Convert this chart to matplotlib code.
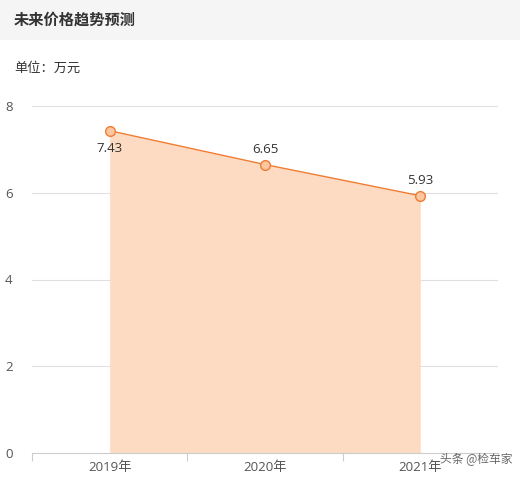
import matplotlib
matplotlib.use("Agg")
import matplotlib.pyplot as plt
from matplotlib.patches import Rectangle

plt.rcParams["font.family"] = ["Open Sans", "Noto Sans CJK SC", "DejaVu Sans"]

years = ["2019年", "2020年", "2021年"]
prices = [7.43, 6.65, 5.93]
yticks = [0, 2, 4, 6, 8]

line_color = "#f07c33"
fill_color = "#fddbc3"
cjk = ["Noto Sans CJK SC", "DejaVu Sans"]

fig = plt.figure(figsize=(5.2, 4.83), dpi=100)
fig.patch.set_facecolor("white")

# header band
fig.patches.append(Rectangle((0, 1 - 40 / 483), 1, 40 / 483, transform=fig.transFigure,
                             facecolor="#f5f5f5", edgecolor="none", zorder=0))
fig.text(14 / 520, 1 - 20 / 483, "未来价格趋势预测", fontsize=11, fontweight="bold",
         color="#333333", va="center", ha="left", family=cjk)
fig.text(14 / 520, 1 - 68 / 483, "单位：万元", fontsize=9.5, color="#333333",
         va="center", ha="left", family=cjk)

ax = fig.add_axes([32 / 520, 1 - 453 / 483, (498 - 32) / 520, (453 - 106) / 483])
x = list(range(len(years)))
ax.fill_between(x, prices, 0, color=fill_color, lw=0, zorder=1)
ax.plot(x, prices, color=line_color, lw=1, zorder=3)
ax.plot(x, prices, "o", ms=7, mfc="#fbc6a0", mec=line_color, mew=1, zorder=4)

for i, v in enumerate(prices):
    if i == 0:
        ax.annotate(f"{v:.2f}", (i, v), xytext=(0, -8), textcoords="offset points",
                    ha="center", va="top", fontsize=9.5, color="#333333")
    else:
        ax.annotate(f"{v:.2f}", (i, v), xytext=(0, 6), textcoords="offset points",
                    ha="center", va="bottom", fontsize=9.5, color="#333333")

ax.set_xlim(-0.5, len(years) - 0.5)
ax.set_ylim(0, 8)
ax.set_yticks(yticks)
ax.set_yticklabels([str(t) for t in yticks])
ax.tick_params(axis="y", length=0, pad=14, labelsize=9.5, labelcolor="#555555")
for t in yticks[1:]:
    ax.axhline(t, color="#e0e0e0", lw=0.8, zorder=0)

ax.set_xticks(x)
ax.set_xticklabels(years)
ax.set_xticks([-0.5, 0.5, 1.5, 2.5], minor=True)
ax.tick_params(axis="x", which="major", length=0, pad=6, labelsize=9.5, labelcolor="#555555")
ax.tick_params(axis="x", which="minor", length=6, color="#cccccc", width=0.8)

for s in ["top", "right", "left"]:
    ax.spines[s].set_visible(False)
ax.spines["bottom"].set_color("#cccccc")
ax.spines["bottom"].set_linewidth(0.8)

fig.text(512 / 520, 1 - 460 / 483, "头条 @检车家", fontsize=8.5, color="#444444",
         alpha=0.8, va="center", ha="right", family=cjk)

fig.savefig("out.png", dpi=100)
